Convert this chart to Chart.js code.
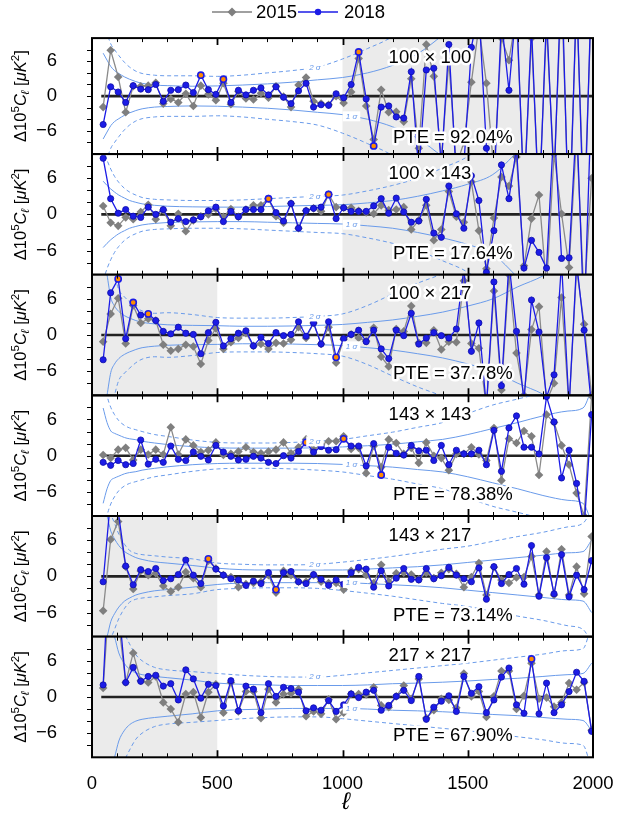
<!DOCTYPE html>
<html>
<head>
<meta charset="utf-8">
<script src="https://cdn.jsdelivr.net/npm/chart.js@4.4.1/dist/chart.umd.min.js"></script>
<style>
  body { margin: 0; background: #fff; }
  #wrap { position: relative; width: 622px; height: 825px; }
  #wrap canvas { position: absolute; left: 0; top: 0; }
</style>
</head>
<body>
<div id="wrap"></div>
<script>
// ---- data ----
const ell = [44.5, 74.5, 104.5, 134.5, 164.5, 194.5, 224.5, 254.5, 284.5, 314.5, 344.5, 374.5, 404.5, 434.5,
  464.5, 494.5, 524.5, 554.5, 584.5, 614.5, 644.5, 674.5, 704.5, 734.5, 764.5, 794.5, 824.5, 854.5, 884.5,
  914.5, 944.5, 974.5, 1004.5, 1034.5, 1064.5, 1094.5, 1124.5, 1154.5, 1184.5, 1214.5, 1244.5, 1274.5,
  1304.5, 1334.5, 1364.5, 1394.5, 1424.5, 1454.5, 1484.5, 1514.5, 1544.5, 1574.5, 1604.5, 1634.5, 1664.5,
  1694.5, 1724.5, 1754.5, 1784.5, 1814.5, 1844.5, 1874.5, 1904.5, 1934.5, 1964.5, 1994.5];

const panelNames = ['100 × 100', '100 × 143', '100 × 217', '143 × 143', '143 × 217', '217 × 217'];
const pteValues = ['92.04%', '17.64%', '37.78%', '78.38%', '73.14%', '67.90%'];
const xTicks = [0, 500, 1000, 1500, 2000];
const yTicks = [-6, 0, 6];

// 100x100
const dl2015_100x100 = [-1.9, 7.9, 3.3, -2.8, 1.7, 1.7, 1.8, 2.3, -1.3, -0.5, -1.1, 0.4, -1.7, 1.8, 0.3, -0.7, 2.2,
  -1.4, 0.8, -0.4, -0.6, 0.5, -0.3, 1.7, -0.1, -1.9, 1.9, 3.2, -0.9, -1.3, -1.5, 0, -1.2,
  0.7, 6.5, -1.7, -7.5, 1.1, -2.8, -2.7, -4.4, 3.0, -9, 8.9, 3.4, -11, 6, -12, -8, 2.4, 12, 2.2, -13, 10, 6.2,
  14, -16, 10, -18, 12, -13, 18, -22, 16, -20, 17];
const dl2018_100x100 = [-4.9, 1.6, 0.7, -1.1, 1.8, 1.2, 1.1, 2.0, -0.9, 1.0, 1.1, 1.9, 0.6, 3.6, 1.1, 0.3, 2.9,
  -1.1, 1.0, 0.2, 1.0, 1.4, 0.2, 1.6, -0.2, -1.3, 0.9, 2.2, -1.9, -1.5, -1.6, 0.4, -0.3,
  2.0, 7.6, -0.5, -8.6, -1.9, -1.7, -3.6, -3.8, 4.2, -13, 4.5, 4.8, -12, 8.9, -14, -12, 8.4, 15, -9, -16, 13, 1.0,
  16, -18, 12, -20, 14, -15, 22, -25, 18, -24, 20];
// 100x143
const dl2015_100x143 = [1.4, -1.4, -1.9, -0.5, -0.8, 0.4, 1.6, -0.8, 0.7, -1.9, 0.1, -2.8, -1.0, -0.3, 0, 0.9, -0.4,
  0.9, -0.4, 0.8, 1.5, 1.5, 2.6, -0.3, -1.4, 1.8, -2.3, 0.6, 1.0, 0.5, 3.3, 1.2, 1.1,
  1.1, 0.6, 0.3, 0.1, 1.5, 0.7, 0.8, 1.2, -2.5, -1.0, 1.5, -4.3, -2.5, 3.8, -0.4, -1.3, 5.4, -2.7, -9.0, -0.6,
  6.2, 4.7, 9.5, -8.5, -0.7, 3.2, -12, 10, 0.1, -8.8, 13, -14, 6];
const dl2018_100x143 = [9.3, 2.6, 0.2, 0.8, -0.3, -0.5, 1.2, 0, 0.8, -1.3, -0.7, -1.2, -0.9, -0.4, 0.6, 1.2, -1.2,
  0.5, -0.4, 0.8, 0.8, 0.8, 2.6, 0.3, -1.1, 1.8, -2.3, 0.6, 1.0, 1.2, 3.3, -0.7, 1.1,
  0.5, 0.5, 0.5, 1.4, 2.6, 0.2, 2.7, 0.4, -1.3, -1.1, 2.5, -3.1, -3.8, 4.7, 0.1, -2.3, 6.4, 2.3, -9.6, -2.7,
  8.2, 2.6, 11, -8.9, -4.3, -6.3, -8.9, 15, -7.3, -7.2, 16, -18, 20];
// 100x217
const dl2015_100x217 = [-1.1, 3.5, 6.1, -1.4, 4.9, 2.0, 2.7, 2.4, -1.6, -2.6, -2.3, -1.6, -1.9, -4.8, -0.9, 1.1,
  -2.3, -1.2, -0.5, 0.3, -1.8, -1.5, -2.3, -1.3, -1.4, -0.8, 1.3, -0.5, 2.0, -1.5, 1.3, -4.6, -0.7,
  0.1, -0.5, -1.0, 1.2, -3.6, -5.2, 1.0, 0.6, 4.8, -1.3, -1.3, 0.8, -2.4, -1.1, -1.2, 9, -1.4, -2.2, -12, 7.3,
  -9.1, 10, -3, -10, 0.9, 4.7, -11, -8, 6.2, -12, 11, 1.8, -10];
const dl2018_100x217 = [-4.1, 7.0, 9.3, -0.6, 5.4, 3.3, 3.5, 2.4, 0.6, 0.2, 1.3, 0.3, 0.1, -3.1, 0.4, 2.1, -1.8,
  -0.6, 0.3, 0.7, -1.8, -0.4, -1.4, 0.4, -0.1, 0.1, 2.2, -0.2, 2.0, -1.5, 2.2, -3.7, -0.6,
  0.1, 0.8, -1.1, 0.8, -2.3, -3.9, 0.8, -0.1, 3.6, -1.5, -0.5, 0.4, -0.1, -0.5, 1.0, 11, -2.7, 2.0, -12, 8.8,
  -8.4, 12, 0.6, -11, 5.8, 0.5, -10.3, -6.6, 12, -12, 12, 0.8, -12];
// 143x143
const dl2015_143x143 = [0.1, -0.4, 1.0, 1.3, -0.7, 1.0, 0.2, 1.0, 0.2, 4.7, 0.2, 2.7, 1.7, 0.6, 0.9, 2.2, 0.1,
  0.3, 0.7, 1.4, 0.6, 0.4, 0.7, 1.0, 2.2, 0.4, 1.4, 2.7, 1.0, 1.8, 2.4, 2.4, 3.2,
  1.1, 1.3, -2.9, 1.6, -1.9, 2.7, 2.1, 0.3, 1.3, -1.2, 2.2, 0, -0.4, -2.4, 0.3, 0.3, 1.4, 0.2, -0.8, 4.6,
  -4.1, 2.8, 2.1, 4.1, 3.2, -3.2, 6.8, 5.5, 1.7, -1.5, -6.2, -10, 9.9];
const dl2018_143x143 = [-1.1, -1.6, -0.8, -1.5, -1.3, 2.6, -1.4, -0.6, -1.1, 1.6, -0.6, -0.8, 0.6, -0.1, -0.7, 1.7,
  0.6, -0.1, -0.7, -0.6, -0.1, -0.4, -1.1, -1.3, 0, -0.4, 0.7, 2.2, 0.6, 1.5, 0.9, 1.0, 2.8,
  1.6, 1.6, -1.7, 2.0, -3.2, 1.4, 0.4, 0.1, 1.7, 0.8, 0.9, -0.8, 1.7, -1.5, 0.9, 0.3, 0.3, 0.9, -1.5, 4.2,
  -2.6, 4.6, 6.6, 1.4, 1.4, 0.3, 9.8, 5.6, -3.7, 0.9, -4.6, -12, 6.8];
// 143x217
const dl2015_143x217 = [-5.7, 6.1, 9.1, 1.6, -2.1, 0.9, 0.2, 0.5, -1.6, -2.5, -1.8, 0.7, -0.3, -1.8, 2.6, 1.3, 0.2,
  -0.1, -1.8, -1.3, -1.1, -0.9, 0.2, -2.7, 0.9, 0.2, -0.9, -0.9, 0.2, -0.9, -1.1, -1.1, -2.2,
  0.9, 1.2, 0.2, -1.1, 1.9, -0.9, 0.5, 0.6, 0.3, -0.5, 0.6, -0.3, 0.6, 1.2, 0.4, -1.8, -0.1, 2.2, -3.1, 1.5,
  -0.6, -1.1, -0.2, -0.1, 3.3, -3.1, 4.1, -3.1, 4.5, -3.1, 1.6, -2.9, 6.6];
const dl2018_143x217 = [-0.9, 13, 10.8, 1.7, -1.4, 1.1, 0.8, 1.3, -0.7, -0.4, 0.3, 2.7, 0.2, -1.2, 2.9, 1.2, 0.2,
  -0.4, -0.6, -1.5, -0.8, -1.2, 0.6, -2.2, 0.6, 0.8, -0.9, -1.2, 0.3, -0.5, -1.5, -0.6, -1.3,
  0.6, 1.5, 1.2, -1.8, 0.9, -1.6, -0.3, 1.3, -0.5, -0.6, 1.3, -0.4, 0.1, 1.5, 0.2, -0.4, -0.9, 1.4, -3.8, 1.6,
  -1.2, 0.3, 1.3, -1.3, 5.1, -3.3, 3.1, -2.9, 3.6, -3.4, 0.2, -2.2, 2.6];
// 217x217
const dl2015_217x217 = [1.5, 20, 13, 2.4, 7.3, 2.7, 2.4, 3.4, -0.9, -2.0, -4.2, 0.5, 0.8, -3.4, 0.8, 2.1, -2.6,
  2.4, -2.4, 0.9, 0.9, -3.5, 1.3, -0.9, 0.5, 0.6, 1.3, -3.2, -2.4, -2.8, -0.4, -3.7, -2.6,
  0.5, 0.5, 0.4, 1.6, -1.4, -1.7, 0.1, 1.9, -0.3, 3.0, -3.5, -2.2, -0.3, -0.5, -1.8, 3.9, 0.1, 0.9, -3.3, 0.1,
  4.3, 4.3, -2.0, 0.2, 5.6, -0.3, -0.1, -1.6, -0.9, 2.3, 1.2, 2.4, -5.5];
const dl2018_217x217 = [2.0, 27, 16, 2.4, 4.9, 2.6, 3.4, 3.6, 1.8, 2.2, -0.5, 4.5, 3.0, -0.2, 2.1, 1.9, -1.5,
  2.7, -2.3, 1.8, 1.3, -2.6, 2.2, 0.1, 1.6, 1.4, 0.8, -2.3, -1.8, -2.2, -0.6, -2.4, -1.3,
  0.5, -0.1, 0.8, 1.1, -2.2, -1.4, 0.1, 1.1, -0.6, 3.4, -3.7, -1.7, -0.7, 0.2, -2.4, 3.4, 0.6, 1.7, -2.6, -0.5,
  3.3, 4.8, -1.3, -2.7, 6.3, -2.8, 2.3, -2.6, -1.3, 0.9, 4.1, 2.6, -5.7];

// 2018 points beyond 2 sigma (bin indices)
const flagged_100x100 = [13, 16, 34, 36];
const flagged_100x143 = [22, 30];
const flagged_100x217 = [2, 4, 6, 31];
const flagged_143x143 = [27, 32, 37];
const flagged_143x217 = [14, 23];
const flagged_217x217 = [57];

// multipole ranges not used in the likelihood (grey)
const masked_100x100 = [[1000, 2000]];
const masked_100x143 = [[1000, 2000]];
const masked_100x217 = [[0, 500], [1000, 2000]];
const masked_143x143 = [];
const masked_143x217 = [[0, 500]];
const masked_217x217 = [[0, 500]];

// 1 sigma and 2 sigma envelopes
const sigEll = [44.5, 60, 75, 90, 107, 130, 150, 175, 200, 250, 300, 400, 500, 600, 700, 800, 900, 1000,
  1100, 1200, 1300, 1400, 1500, 1600, 1700, 1800, 1900, 1960, 1994.5];
const sig1_100x100 = [7.4, 6.2, 5.1, 4.4, 3.9, 3.3, 2.9, 2.5, 2.2, 1.9, 1.8, 1.7, 1.75, 1.9, 2.1, 2.4, 2.8, 3.2,
  4.0, 5.3, 7.3, 10.5, 14, 18, 23, 28, 34, 38, 40];
const sig2_100x100 = [15, 11, 9, 8, 7, 5.8, 5, 4.3, 3.9, 3.6, 3.5, 3.5, 3.4, 3.6, 4.0, 4.4, 5.0, 6.4,
  8.2, 10.3, 14, 20, 28, 36, 46, 56, 68, 76, 80];
const sig1_100x143 = [5.5, 4.8, 4.2, 3.7, 3.2, 2.7, 2.3, 2.0, 1.75, 1.5, 1.35, 1.25, 1.2, 1.2, 1.3, 1.4, 1.5, 1.6,
  1.9, 2.3, 3.0, 3.9, 5.0, 6.6, 10.5, 15, 20, 24, 26];
const sig2_100x143 = [11, 9, 7.5, 6.3, 5.3, 4.3, 3.7, 3.2, 2.8, 2.5, 2.4, 2.3, 2.3, 2.4, 2.6, 2.8, 3.0, 3.2,
  3.9, 4.8, 6.0, 7.7, 9.6, 13, 21, 30, 40, 48, 52];
const sig1_100x217 = [14, 10, 6.2, 4.8, 3.9, 3.2, 2.8, 2.4, 2.1, 1.85, 1.7, 1.6, 1.55, 1.45, 1.45, 1.5, 1.6, 1.75,
  2.1, 2.5, 3.1, 3.8, 4.8, 6.0, 8.0, 9.8, 12.5, 14, 15];
const sig2_100x217 = [28, 20, 13, 10, 7.5, 6.3, 5.5, 4.6, 4.0, 3.6, 3.7, 3.4, 2.9, 2.8, 2.8, 2.9, 3.1, 3.5,
  4.9, 6.8, 8.6, 10.2, 12.5, 15, 18, 21, 25, 28, 30];
const sig1_143x143 = [7.9, 5.5, 4.1, 3.7, 3.4, 3.0, 2.8, 2.65, 2.4, 2.1, 1.85, 1.5, 1.3, 1.25, 1.25, 1.25, 1.3, 1.45,
  1.65, 1.9, 2.3, 2.7, 3.5, 4.5, 5.5, 6.6, 7.4, 7.9, 11];
const sig2_143x143 = [14, 10, 8, 6.8, 5.8, 5, 4.6, 4.3, 4.0, 3.5, 3.2, 2.6, 2.2, 2.1, 2.1, 2.2, 2.4, 2.7,
  3.3, 3.9, 4.7, 5.5, 7.0, 8.4, 9.4, 10.5, 12, 13, 20];
const sig1_143x217 = [11.5, 10, 7.5, 6.2, 5.1, 4.1, 3.6, 3.1, 2.8, 2.4, 2.2, 1.8, 1.35, 1.1, 1.05, 1.05, 1.05, 1.05,
  1.2, 1.4, 1.6, 1.9, 2.3, 2.7, 3.1, 3.5, 3.9, 4.1, 6];
const sig2_143x217 = [20, 14, 10.5, 8.8, 7.0, 5.3, 4.3, 3.8, 3.6, 3.4, 3.2, 2.9, 2.2, 2.0, 1.9, 1.9, 2.0, 2.35,
  2.8, 3.3, 3.9, 4.5, 5.0, 5.8, 6.6, 7.3, 8.2, 8.8, 11];
const sig1_217x217 = [20, 15, 12, 10, 7.3, 5.5, 4.6, 4.0, 3.7, 3.4, 3.2, 2.8, 2.3, 2.1, 2.0, 1.9, 1.9, 1.9,
  2.0, 2.2, 2.3, 2.45, 2.65, 2.9, 3.1, 3.4, 3.7, 3.9, 5.6];
const sig2_217x217 = [40, 30, 22, 17, 13, 10.5, 8.8, 7.0, 6.0, 4.9, 4.5, 4.2, 3.9, 3.6, 3.4, 3.3, 3.3, 3.6,
  4.0, 4.4, 4.8, 5.2, 5.6, 6.1, 6.6, 7.1, 7.7, 8.0, 12];

const panels = [
  { d15: dl2015_100x100, d18: dl2018_100x100, s1: sig1_100x100, s2: sig2_100x100, hi: flagged_100x100, mask: masked_100x100 },
  { d15: dl2015_100x143, d18: dl2018_100x143, s1: sig1_100x143, s2: sig2_100x143, hi: flagged_100x143, mask: masked_100x143 },
  { d15: dl2015_100x217, d18: dl2018_100x217, s1: sig1_100x217, s2: sig2_100x217, hi: flagged_100x217, mask: masked_100x217 },
  { d15: dl2015_143x143, d18: dl2018_143x143, s1: sig1_143x143, s2: sig2_143x143, hi: flagged_143x143, mask: masked_143x143 },
  { d15: dl2015_143x217, d18: dl2018_143x217, s1: sig1_143x217, s2: sig2_143x217, hi: flagged_143x217, mask: masked_143x217 },
  { d15: dl2015_217x217, d18: dl2018_217x217, s1: sig1_217x217, s2: sig2_217x217, hi: flagged_217x217, mask: masked_217x217 }
];

// ---- layout ----
const W = 622, H = 825;
const TOP = 33.4, PH = 120.65, LEFT = 92, RIGHT = 593;
const FONT = '"Liberation Sans", Arial, sans-serif';
const BLUE = '#1c1ce6', GREY = '#808080', SIG = '#6a9bea';
Chart.defaults.font.family = FONT;
Chart.defaults.color = '#000';

function interp(xs, ys, v) {
  for (let j = 1; j < xs.length; j++) {
    if (v <= xs[j]) {
      const t = (v - xs[j - 1]) / (xs[j] - xs[j - 1]);
      return ys[j - 1] + t * (ys[j] - ys[j - 1]);
    }
  }
  return ys[ys.length - 1];
}

function drawYTitle(ctx, cx, cy) {
  const b = 16.5;
  const segs = [
    { t: 'Δ10', f: `${b}px ${FONT}`, dy: 0 },
    { t: '5', f: `${b * 0.7}px ${FONT}`, dy: -b * 0.42 },
    { t: 'C', f: `italic ${b}px ${FONT}`, dy: 0 },
    { t: 'ℓ', f: `italic ${b * 0.7}px ${FONT}`, dy: b * 0.22 },
    { t: ' [', f: `${b}px ${FONT}`, dy: 0 },
    { t: 'μK', f: `italic ${b}px ${FONT}`, dy: 0 },
    { t: '2', f: `${b * 0.7}px ${FONT}`, dy: -b * 0.42 },
    { t: ']', f: `${b}px ${FONT}`, dy: 0 }
  ];
  let total = 0;
  segs.forEach(s => { ctx.font = s.f; s.w = ctx.measureText(s.t).width; total += s.w; });
  ctx.save();
  ctx.translate(cx, cy);
  ctx.rotate(-Math.PI / 2);
  ctx.fillStyle = '#000';
  ctx.textBaseline = 'alphabetic';
  ctx.textAlign = 'left';
  let x0 = -total / 2;
  segs.forEach(s => { ctx.font = s.f; ctx.fillText(s.t, x0, b * 0.35 + s.dy); x0 += s.w; });
  ctx.restore();
}

function outlinedText(ctx, txt, x, y, align) {
  ctx.textAlign = align;
  ctx.textBaseline = 'middle';
  ctx.lineJoin = 'round';
  ctx.strokeStyle = '#fff';
  ctx.lineWidth = 5;
  ctx.strokeText(txt, x, y);
  ctx.fillStyle = '#000';
  ctx.fillText(txt, x, y);
}

function sigmaTag(ctx, txt, x, y) {
  ctx.font = `italic 8px ${FONT}`;
  const w = ctx.measureText(txt).width + 6;
  ctx.fillStyle = '#fff';
  ctx.fillRect(x - w / 2, y - 5, w, 10);
  ctx.fillStyle = SIG;
  ctx.textAlign = 'center';
  ctx.textBaseline = 'middle';
  ctx.fillText(txt, x, y);
}

function makeDeco(p, i) {
  const last = i === panels.length - 1;
  return {
    id: 'deco' + i,
    beforeDatasetsDraw(chart) {
      const { ctx, chartArea: a, scales: { x } } = chart;
      ctx.save();
      ctx.fillStyle = '#ebebeb';
      p.mask.forEach(([l0, l1]) => {
        const x0 = x.getPixelForValue(l0), x1 = x.getPixelForValue(l1);
        ctx.fillRect(x0, a.top, x1 - x0, a.bottom - a.top);
      });
      ctx.restore();
    },
    afterDatasetsDraw(chart) {
      const { ctx, chartArea: a, scales: { x, y } } = chart;
      ctx.save();
      // sigma tags
      sigmaTag(ctx, '2 σ', x.getPixelForValue(890), y.getPixelForValue(interp(sigEll, p.s2, 890)));
      sigmaTag(ctx, '1 σ', x.getPixelForValue(1036), y.getPixelForValue(-interp(sigEll, p.s1, 1036)));
      // frame
      ctx.strokeStyle = '#000';
      ctx.lineWidth = 2;
      ctx.strokeRect(a.left, a.top, a.right - a.left, a.bottom - a.top);
      // x ticks, inward on top and bottom
      for (let l = 100; l < 2000; l += 100) {
        const px = Math.round(x.getPixelForValue(l)) + 0.5;
        const major = l % 500 === 0;
        const len = major ? 7 : 4;
        ctx.lineWidth = major ? 1.8 : 1;
        ctx.beginPath();
        ctx.moveTo(px, a.top); ctx.lineTo(px, a.top + len);
        ctx.moveTo(px, a.bottom); ctx.lineTo(px, a.bottom - len);
        ctx.stroke();
      }
      // y ticks, outward on left
      ctx.lineWidth = 1;
      ctx.beginPath();
      for (let v = -8; v <= 8; v += 2) {
        const py = Math.round(y.getPixelForValue(v)) + 0.5;
        ctx.moveTo(a.left - 5, py); ctx.lineTo(a.left, py);
      }
      ctx.stroke();
      // panel labels
      ctx.font = `18.5px ${FONT}`;
      outlinedText(ctx, panelNames[i], 430, a.top + 19.7, 'center');
      outlinedText(ctx, 'PTE = ' + pteValues[i], 393, a.top + 99.7, 'left');
      // y title
      drawYTitle(ctx, 20, (a.top + a.bottom) / 2);
      if (i === 0) {
        // legend
        const ly = 12;
        ctx.lineWidth = 1.3;
        ctx.strokeStyle = GREY;
        ctx.beginPath(); ctx.moveTo(212, ly); ctx.lineTo(252, ly); ctx.stroke();
        ctx.fillStyle = '#7f7f7f';
        ctx.beginPath(); ctx.moveTo(232, ly - 4.5); ctx.lineTo(236.5, ly); ctx.lineTo(232, ly + 4.5); ctx.lineTo(227.5, ly); ctx.closePath(); ctx.fill();
        ctx.strokeStyle = BLUE;
        ctx.beginPath(); ctx.moveTo(298, ly); ctx.lineTo(338, ly); ctx.stroke();
        ctx.fillStyle = BLUE;
        ctx.beginPath(); ctx.arc(318, ly, 3.2, 0, Math.PI * 2); ctx.fill();
        ctx.fillStyle = '#000';
        ctx.font = `18.5px ${FONT}`;
        ctx.textAlign = 'left';
        ctx.textBaseline = 'middle';
        ctx.fillText('2015', 256, ly + 1);
        ctx.fillText('2018', 344, ly + 1);
      }
      if (last) {
        ctx.fillStyle = '#000';
        ctx.font = `italic 24px ${FONT}`;
        ctx.textAlign = 'center';
        ctx.textBaseline = 'middle';
        ctx.fillText('ℓ', 346, 802);
      }
      ctx.restore();
    }
  };
}

const wrap = document.getElementById('wrap');
panels.forEach((p, i) => {
  const last = i === panels.length - 1;
  const top = TOP + i * PH, bottom = TOP + (i + 1) * PH;
  const c = document.createElement('canvas');
  c.width = W; c.height = H;
  c.style.width = W + 'px'; c.style.height = H + 'px';
  wrap.appendChild(c);

  const pts = vals => ell.map((l, j) => ({ x: l, y: vals[j] }));
  const band = (vals, sgn) => sigEll.map((l, j) => ({ x: l, y: sgn * vals[j] }));
  const sigmaSet = (vals, sgn, dash) => ({
    data: band(vals, sgn), borderColor: SIG, borderWidth: 1, borderDash: dash,
    pointRadius: 0, cubicInterpolationMode: 'monotone'
  });

  new Chart(c, {
    type: 'line',
    data: {
      datasets: [
        {
          label: '2018', data: pts(p.d18), borderColor: BLUE, borderWidth: 1.3,
          pointStyle: 'circle', pointRadius: 3.1,
          pointBackgroundColor: p.d18.map((_, j) => p.hi.includes(j) ? '#ff8c00' : BLUE),
          pointBorderColor: p.d18.map((_, j) => p.hi.includes(j) ? BLUE : '#0d0da8'),
          pointBorderWidth: p.d18.map((_, j) => p.hi.includes(j) ? 1.6 : 0.8)
        },
        {
          label: '2015', data: pts(p.d15), borderColor: '#8a8a8a', borderWidth: 1.3,
          pointStyle: 'rectRot', pointRadius: 4.3, pointBackgroundColor: '#7f7f7f',
          pointBorderColor: '#7f7f7f', pointBorderWidth: 0
        },
        { data: [{ x: 37, y: 0 }, { x: 2000, y: 0 }], borderColor: '#222', borderWidth: 2.6, pointRadius: 0 },
        sigmaSet(p.s1, 1, []),
        sigmaSet(p.s1, -1, []),
        sigmaSet(p.s2, 1, [4, 3]),
        sigmaSet(p.s2, -1, [4, 3])
      ]
    },
    options: {
      responsive: false,
      animation: false,
      devicePixelRatio: 1,
      events: [],
      layout: { padding: { top: top, bottom: last ? 0 : H - bottom, left: 0, right: W - RIGHT } },
      plugins: { legend: { display: false }, tooltip: { enabled: false } },
      scales: {
        x: {
          type: 'linear', min: 0, max: 2000, display: last,
          grid: { display: false }, border: { display: false },
          afterBuildTicks: s => { s.ticks = xTicks.map(v => ({ value: v })); },
          afterFit: s => { if (last) s.height = H - bottom; },
          ticks: { padding: 8, font: { size: 18.5 }, color: '#000', maxRotation: 0, callback: v => String(v) }
        },
        y: {
          type: 'linear', min: -10, max: 10,
          grid: { display: false }, border: { display: false },
          afterBuildTicks: s => { s.ticks = yTicks.map(v => ({ value: v })); },
          afterFit: s => { s.width = LEFT; },
          ticks: {
            padding: 27, font: { size: 18.5 }, color: '#000',
            callback: v => v < 0 ? '−' + Math.abs(v) : String(v)
          }
        }
      }
    },
    plugins: [makeDeco(p, i)]
  });
});
</script>
</body>
</html>
